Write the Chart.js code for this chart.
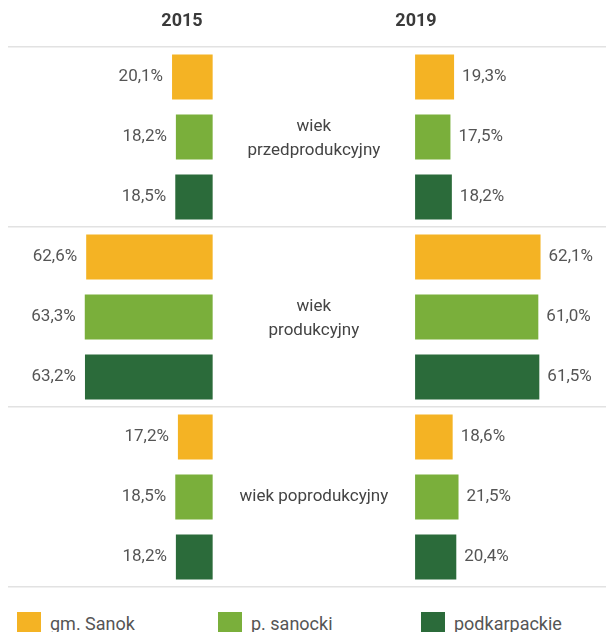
<!DOCTYPE html>
<html>
<head>
<meta charset="utf-8">
<script src="https://cdn.jsdelivr.net/npm/chart.js@4.4.1/dist/chart.umd.min.js"></script>
<style>
    body { margin: 0; background: #fff; font-family: Roboto, sans-serif; }
    #wrap { position: relative; width: 606px; height: 632px; overflow: hidden; }
    #chart { position: absolute; left: 0; top: 0; }
    .year { position: absolute; top: 9px; font-weight: bold; font-size: 18px; color: #3a3a3a; transform: translateX(-50%); }
    .item { position: absolute; top: 612px; display: flex; align-items: flex-start; font-size: 18px; color: #555; }
    .item .box { width: 24px; height: 24px; margin-right: 9px; }
    .item .txt { line-height: 24px; }
</style>
</head>
<body>
<div id="wrap">
    <canvas id="chart" width="606" height="600"></canvas>
    <div class="year" style="left:182px">2015</div>
    <div class="year" style="left:416px">2019</div>
</div>
<script>
// age groups (rows)
var categories = [['wiek', 'przedprodukcyjny'], ['wiek', 'produkcyjny'], ['wiek poprodukcyjny']];
var series = ['gm. Sanok', 'p. sanocki', 'podkarpackie'];
var colors = ['#F4B324', '#7AAF3B', '#2B6B3A'];

// shares in %, per series, per age group
var gmSanok2015 = [20.1, 62.6, 17.2];
var pSanocki2015 = [18.2, 63.3, 18.5];
var podkarpackie2015 = [18.5, 63.2, 18.2];

var gmSanok2019 = [19.3, 62.1, 18.6];
var pSanocki2019 = [17.5, 61.0, 21.5];
var podkarpackie2019 = [18.2, 61.5, 20.4];

var values2015 = [gmSanok2015, pSanocki2015, podkarpackie2015];
var values2019 = [gmSanok2019, pSanocki2019, podkarpackie2019];

// half of the empty middle column, in % units
var GAP = 50.1;

var datasets = [];
series.forEach(function (name, i) {
    datasets.push({
        label: name,
        year: '2015',
        vals: values2015[i],
        data: values2015[i].map(function (v) { return [-GAP - v, -GAP]; }),
        backgroundColor: colors[i],
        stack: 's' + i
    });
    datasets.push({
        label: name,
        year: '2019',
        vals: values2019[i],
        data: values2019[i].map(function (v) { return [GAP, GAP + v]; }),
        backgroundColor: colors[i],
        stack: 's' + i
    });
});

function fmt(v) {
    return v.toFixed(1).replace('.', ',') + '%';
}

var labelPlugin = {
    id: 'labelPlugin',
    afterDatasetsDraw: function (chart) {
        var ctx = chart.ctx;
        ctx.save();
        ctx.textBaseline = 'middle';
        ctx.font = '17px Roboto';
        ctx.fillStyle = '#555';
        chart.data.datasets.forEach(function (ds, di) {
            var meta = chart.getDatasetMeta(di);
            meta.data.forEach(function (el, k) {
                var lo = Math.min(el.x, el.base);
                var hi = Math.max(el.x, el.base);
                if (ds.year === '2015') {
                    ctx.textAlign = 'right';
                    ctx.fillText(fmt(ds.vals[k]), lo - 9, el.y);
                } else {
                    ctx.textAlign = 'left';
                    ctx.fillText(fmt(ds.vals[k]), hi + 8, el.y);
                }
            });
        });
        // age group names in the middle column
        var cx = chart.scales.x.getPixelForValue(0);
        ctx.textAlign = 'center';
        ctx.font = '17px Roboto';
        ctx.fillStyle = '#444';
        categories.forEach(function (lines, i) {
            var cy = chart.scales.y.getPixelForValue(i);
            var n = lines.length;
            lines.forEach(function (t, j) {
                ctx.fillText(t, cx, cy + (j - (n - 1) / 2) * 24 + (n > 1 ? 2 : 0));
            });
        });
        ctx.restore();
    }
};

var chart = new Chart(document.getElementById('chart').getContext('2d'), {
    type: 'bar',
    data: {
        labels: categories.map(function (c) { return c.join(' '); }),
        datasets: datasets
    },
    options: {
        indexAxis: 'y',
        responsive: false,
        animation: false,
        categoryPercentage: 1,
        barPercentage: 0.75,
        layout: { padding: { top: 47, bottom: 13, left: 8, right: 0 } },
        scales: {
            x: { display: false, min: -151.4, max: 144.6 },
            y: {
                offset: true,
                ticks: { display: false },
                border: { display: false },
                grid: { offset: true, drawTicks: false, color: '#e2e2e2', lineWidth: 1.5 }
            }
        },
        plugins: {
            legend: { display: false },
            tooltip: { enabled: false }
        }
    },
    plugins: [labelPlugin]
});

// legend
var legendLeft = [17, 218, 421];
series.forEach(function (name, i) {
    var item = document.createElement('div');
    item.className = 'item';
    item.style.left = legendLeft[i] + 'px';
    item.innerHTML = '<span class="box" style="background:' + colors[i] + '"></span><span class="txt">' + name + '</span>';
    document.getElementById('wrap').appendChild(item);
});
</script>
</body>
</html>
